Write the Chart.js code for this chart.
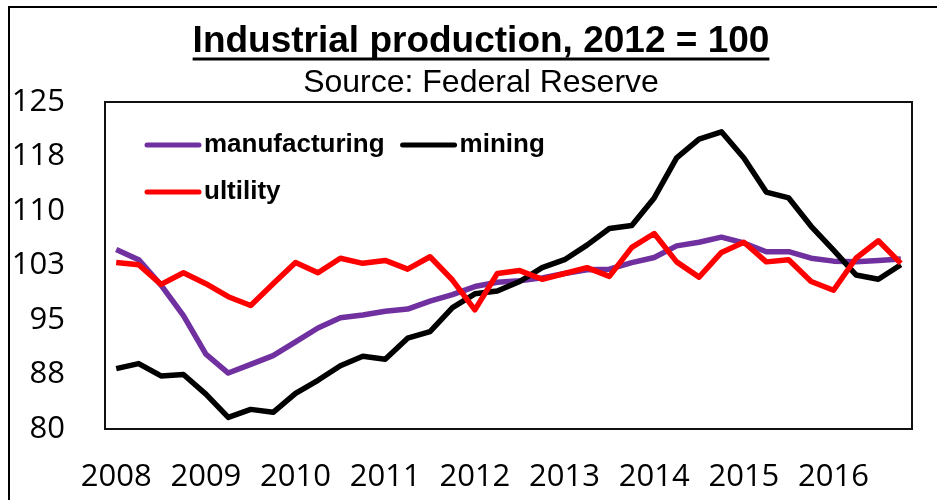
<!DOCTYPE html>
<html>
<head>
<meta charset="utf-8">
<title>Industrial production</title>
<script src="https://cdn.jsdelivr.net/npm/chart.js@4.4.1/dist/chart.umd.min.js"></script>
<style>
    body { margin: 0; background: #fff; }
    #wrap { width: 937px; height: 500px; position: relative; }
</style>
</head>
<body>
<div id="wrap"><canvas id="ipChart"></canvas></div>
<script>
// quarterly index, 2012 = 100
const quarters = [
    '2008Q1', '2008Q2', '2008Q3', '2008Q4', '2009Q1', '2009Q2', '2009Q3', '2009Q4',
    '2010Q1', '2010Q2', '2010Q3', '2010Q4', '2011Q1', '2011Q2', '2011Q3', '2011Q4',
    '2012Q1', '2012Q2', '2012Q3', '2012Q4', '2013Q1', '2013Q2', '2013Q3', '2013Q4',
    '2014Q1', '2014Q2', '2014Q3', '2014Q4', '2015Q1', '2015Q2', '2015Q3', '2015Q4',
    '2016Q1', '2016Q2', '2016Q3', '2016Q4'
];
const manufacturing = [
    104.7, 103.3, 99.8, 95.6, 90.3, 87.7, 88.9, 90.1, 92.0, 93.9, 95.3, 95.7,
    96.2, 96.5, 97.6, 98.5, 99.6, 100.2, 100.4, 100.8, 101.4, 101.9, 102.0, 102.9,
    103.6, 105.2, 105.7, 106.4, 105.6, 104.4, 104.4, 103.5, 103.1, 103.0, 103.2, 103.4
];
const mining = [
    88.3, 89.0, 87.3, 87.5, 84.8, 81.6, 82.7, 82.3, 84.9, 86.7, 88.7, 90.0,
    89.6, 92.5, 93.4, 96.7, 98.6, 99.0, 100.3, 102.2, 103.3, 105.3, 107.6, 108.0,
    111.8, 117.3, 119.9, 120.9, 117.3, 112.6, 111.8, 107.9, 104.6, 101.2, 100.6, 102.6
];
const utility = [
    102.9, 102.6, 99.9, 101.5, 100.0, 98.2, 97.0, 100.0, 102.9, 101.5, 103.5, 102.8,
    103.2, 102.0, 103.7, 100.5, 96.4, 101.4, 101.8, 100.6, 101.4, 102.2, 101.0, 105.0,
    106.9, 103.0, 100.9, 104.3, 105.7, 103.0, 103.3, 100.3, 99.1, 103.5, 105.9, 102.8
];
const yMin = 80, yMax = 125, yStep = 7.5;

const titleText = 'Industrial production, 2012 = 100';
const subtitleText = 'Source: Federal Reserve';

// white page, outer frame, title with underline, plot box and legend
const decorations = {
    id: 'decorations',
    beforeDraw(chart) {
        const ctx = chart.ctx;
        ctx.save();
        ctx.fillStyle = '#fff';
        ctx.fillRect(0, 0, chart.width, chart.height);
        ctx.strokeStyle = '#000';
        ctx.lineWidth = 2;
        ctx.beginPath();
        ctx.moveTo(9, chart.height);
        ctx.lineTo(9, 7);
        ctx.lineTo(chart.width, 7);
        ctx.stroke();

        ctx.fillStyle = '#000';
        ctx.textAlign = 'center';
        ctx.textBaseline = 'alphabetic';
        ctx.font = 'bold 37px "Liberation Sans", Arial, sans-serif';
        ctx.fillText(titleText, 481, 52);
        var w = ctx.measureText(titleText).width;
        ctx.fillRect(481 - w / 2, 57.5, w, 3);
        ctx.font = '32px "Liberation Sans", Arial, sans-serif';
        ctx.fillText(subtitleText, 481, 92);
        ctx.restore();
    },
    afterDatasetsDraw(chart) {
        const ctx = chart.ctx;
        const a = chart.chartArea;
        ctx.save();
        ctx.strokeStyle = '#111';
        ctx.lineWidth = 2;
        ctx.strokeRect(a.left, a.top, a.right - a.left, a.bottom - a.top);

        // legend: two items in the first row, one in the second
        const rows = [[0, 1], [2]];
        ctx.font = 'bold 26px "Liberation Sans", Arial, sans-serif';
        ctx.textBaseline = 'middle';
        ctx.textAlign = 'left';
        ctx.lineCap = 'round';
        rows.forEach(function (row, r) {
            let x = a.left + 42;
            const y = a.top + 43 + r * 47;
            row.forEach(function (idx) {
                const ds = chart.data.datasets[idx];
                ctx.strokeStyle = ds.borderColor;
                ctx.lineWidth = 5;
                ctx.beginPath();
                ctx.moveTo(x, y);
                ctx.lineTo(x + 52, y);
                ctx.stroke();
                ctx.fillStyle = '#000';
                ctx.fillText(ds.label, x + 57, y);
                x += 57 + ctx.measureText(ds.label).width + 18;
            });
        });
        ctx.restore();
    }
};

const ctx = document.getElementById('ipChart').getContext('2d');
new Chart(ctx, {
    type: 'line',
    data: {
        labels: quarters,
        datasets: [
            { label: 'manufacturing', data: manufacturing, borderColor: '#7030A0', order: 3 },
            { label: 'mining', data: mining, borderColor: '#000000', order: 2 },
            { label: 'ultility', data: utility, borderColor: '#FF0000', order: 1 }
        ]
    },
    options: {
        responsive: true,
        maintainAspectRatio: false,
        animation: false,
        layout: { padding: { top: 102, left: 11, right: 25, bottom: 7 } },
        elements: {
            line: { borderWidth: 5.5, tension: 0, borderJoinStyle: 'round', fill: false },
            point: { radius: 0, hoverRadius: 0 }
        },
        plugins: {
            legend: { display: false },
            title: { display: false },
            tooltip: { enabled: false }
        },
        scales: {
            x: {
                offset: true,
                grid: { display: false },
                border: { display: false },
                afterFit: function (scale) { scale.height = 64; },
                ticks: {
                    autoSkip: false,
                    maxRotation: 0,
                    padding: 22,
                    color: '#000',
                    font: { family: '"Open Sans"', size: 31 },
                    callback: function (val, i) {
                        const q = quarters[i];
                        return q.endsWith('Q1') ? q.slice(0, 4) : '';
                    }
                }
            },
            y: {
                min: yMin,
                max: yMax,
                grid: { display: false },
                border: { display: false },
                afterFit: function (scale) { scale.width = 94; },
                ticks: {
                    stepSize: yStep,
                    padding: 32,
                    color: '#000',
                    font: { family: '"Open Sans"', size: 31 },
                    callback: function (v) { return Math.round(v); }
                }
            }
        }
    },
    plugins: [decorations]
});
</script>
</body>
</html>
